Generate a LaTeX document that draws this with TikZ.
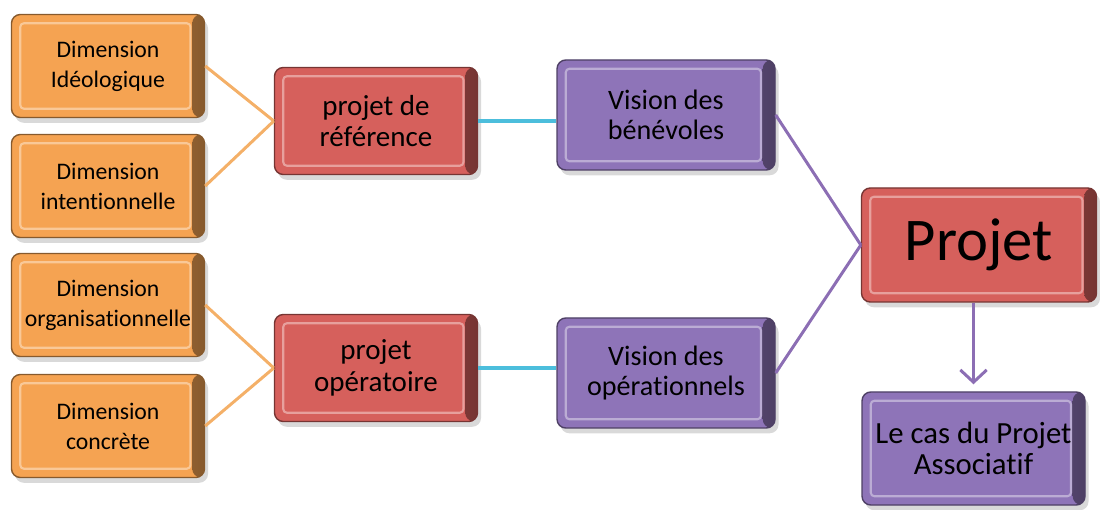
\documentclass[tikz,border=0pt]{standalone}
\usepackage{fontspec}
\setmainfont{Carlito}[Ligatures=NoCommon]
\usetikzlibrary{arrows.meta,shadows}

\definecolor{dimorange}{RGB}{245,163,82}
\definecolor{projred}{RGB}{214,96,92}
\definecolor{visionpurple}{RGB}{142,116,184}
\definecolor{linkorange}{RGB}{244,176,104}
\definecolor{linkcyan}{RGB}{76,190,220}
\definecolor{linkpurple}{RGB}{140,110,180}

\tikzset{
	bevel/.style={rectangle, rounded corners=5pt, draw=#1!55!black, line width=0.8pt,
		fill=#1, align=center, inner sep=2pt,
		drop shadow={opacity=0.3, shadow xshift=2pt, shadow yshift=-3pt},
		path picture={
			\shade[left color=#1, right color=#1!55!black]
				([xshift=-7pt]path picture bounding box.north east) rectangle (path picture bounding box.south east);
			\draw[#1!60!white, line width=1.2pt, rounded corners=2pt]
				([shift={(5pt,-5pt)}]path picture bounding box.north west) rectangle ([shift={(-8pt,5pt)}]path picture bounding box.south east);
		}},
	dimbox/.style={bevel=dimorange, minimum width=3.86cm, minimum height=2.06cm, font=\fontsize{13.5}{17}\selectfont},
	projbox/.style={bevel=projred, minimum width=4.06cm, minimum height=2.14cm, font=\fontsize{16.5}{18}\selectfont},
	visionbox/.style={bevel=visionpurple, minimum width=4.36cm, minimum height=2.2cm, font=\fontsize{16}{17}\selectfont},
	link/.style={line width=1.7pt, draw=#1},
}

\begin{document}
\begin{tikzpicture}
	\useasboundingbox (0,0) rectangle (22,-10.2);

	% Dimensions
	\node [dimbox] (ideo)  at (2.16,-1.32) {Dimension\\Idéologique};
	\node [dimbox] (inten) at (2.16,-3.72) {Dimension\\intentionnelle};
	\node [dimbox] (orga)  at (2.16,-6.10) {Dimension\\organisationnelle};
	\node [dimbox] (concr) at (2.16,-8.52) {Dimension\\concrète};

	% Projets
	\node [projbox] (ref)  at (7.52,-2.42) {projet de\\référence};
	\node [projbox] (oper) at (7.52,-7.36) {projet\\opératoire};

	% Visions
	\node [visionbox] (benev) at (13.32,-2.30) {Vision des\\bénévoles};
	\node [visionbox] (opera) at (13.32,-7.46) {Vision des\\opérationnels};

	% Projet et cas
	\node [bevel=projred, minimum width=4.7cm, minimum height=2.28cm, font=\fontsize{34.5}{36}\selectfont]
		(projet) at (19.58,-4.90) {Projet};
	\node [visionbox, minimum width=4.46cm, minimum height=2.26cm, font=\fontsize{17.5}{18}\selectfont]
		(cas) at (19.47,-8.97) {Le cas du Projet\\Associatif};

	% Liens
	\path [link=linkorange] (ideo.east)  edge (ref.west);
	\path [link=linkorange] (inten.east) edge (ref.west);
	\path [link=linkorange] (orga.east)  edge (oper.west);
	\path [link=linkorange] (concr.east) edge (oper.west);
	\path [link=linkcyan, line width=2.2pt] (ref.east)  edge (ref.east -| benev.west);
	\path [link=linkcyan, line width=2.2pt] (oper.east) edge (oper.east -| opera.west);
	\path [link=linkpurple] (benev.east) edge (projet.west);
	\path [link=linkpurple] (opera.east) edge (projet.west);
	\draw [link=linkpurple, -{Straight Barb[length=7pt,width=15pt]}, shorten >=4pt]
		(projet.south -| cas.north) -- (cas.north);

\end{tikzpicture}
\end{document}
